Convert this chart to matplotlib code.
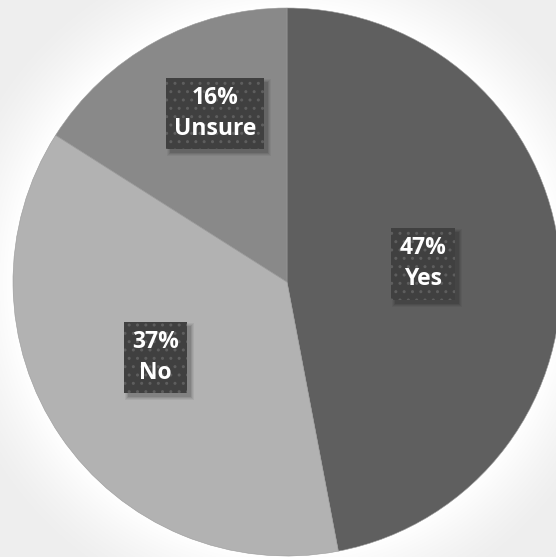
import numpy as np
import matplotlib
matplotlib.use("Agg")
import matplotlib.pyplot as plt
from matplotlib.patches import Rectangle
from matplotlib.transforms import IdentityTransform

labels = ["Yes", "No", "Unsure"]
shares = [47, 37, 16]
colors = ["#5f5f5f", "#b2b2b2", "#898989"]

# label box centres, in units of the pie radius
label_pos = [(0.497, 0.066), (-0.480, -0.276), (-0.263, 0.615)]

W, H = 556, 557
CX, CY, R = 287, 275, 274   # pie centre (from bottom-left) and radius, pixels

fig = plt.figure(figsize=(W / 100, H / 100), dpi=100)
ax = fig.add_axes([0, 0, 1, 1])
xlim = (-CX / R, (W - CX) / R)
ylim = (-CY / R, (H - CY) / R)

# light grey backdrop with a soft white glow around the pie
xs = np.linspace(xlim[0], xlim[1], W)
ys = np.linspace(ylim[0], ylim[1], H)
gx, gy = np.meshgrid(xs, ys)
dist = np.sqrt(gx ** 2 + gy ** 2) - 1.0
glow = np.clip(1 - dist / 0.26, 0, 1) ** 1.3
shade = 0.935 + 0.065 * glow
bg = np.dstack([shade, shade, shade])
ax.imshow(bg, extent=(*xlim, *ylim), origin="lower", zorder=0)

wedges, _ = ax.pie(shares, colors=colors, startangle=90, counterclock=False,
                   radius=1.0, center=(0, 0), frame=True,
                   wedgeprops=dict(edgecolor="#9a9a9a", linewidth=0.4))
for w in wedges:
    w.set_zorder(2)
ax.set_xlim(*xlim)
ax.set_ylim(*ylim)
ax.set_aspect("equal")
ax.axis("off")

texts = []
for (x, y), lab, val in zip(label_pos, labels, shares):
    t = ax.text(x, y, f"{val}%\n{lab}", ha="center", va="center", fontsize=16.5,
                family="Open Sans", weight="bold", color="white",
                linespacing=1.38, zorder=5,
                bbox=dict(boxstyle="square,pad=0.36", facecolor="#404040",
                          edgecolor="#5e5e5e", linewidth=0, hatch=".."))
    texts.append(t)

# soft drop shadow under each label box, in pixel coordinates
fig.canvas.draw()
renderer = fig.canvas.get_renderer()
for t in texts:
    ext = t.get_bbox_patch().get_window_extent(renderer)
    for k, a in enumerate([0.05, 0.06, 0.08, 0.10]):
        grow = 3 - k
        rect = Rectangle((ext.x0 + 4 - grow, ext.y0 - 4 - grow),
                         ext.width + 2 * grow, ext.height + 2 * grow,
                         transform=IdentityTransform(), facecolor="black",
                         edgecolor="none", alpha=a, zorder=4)
        ax.add_patch(rect)

fig.savefig("out.png", dpi=100)
